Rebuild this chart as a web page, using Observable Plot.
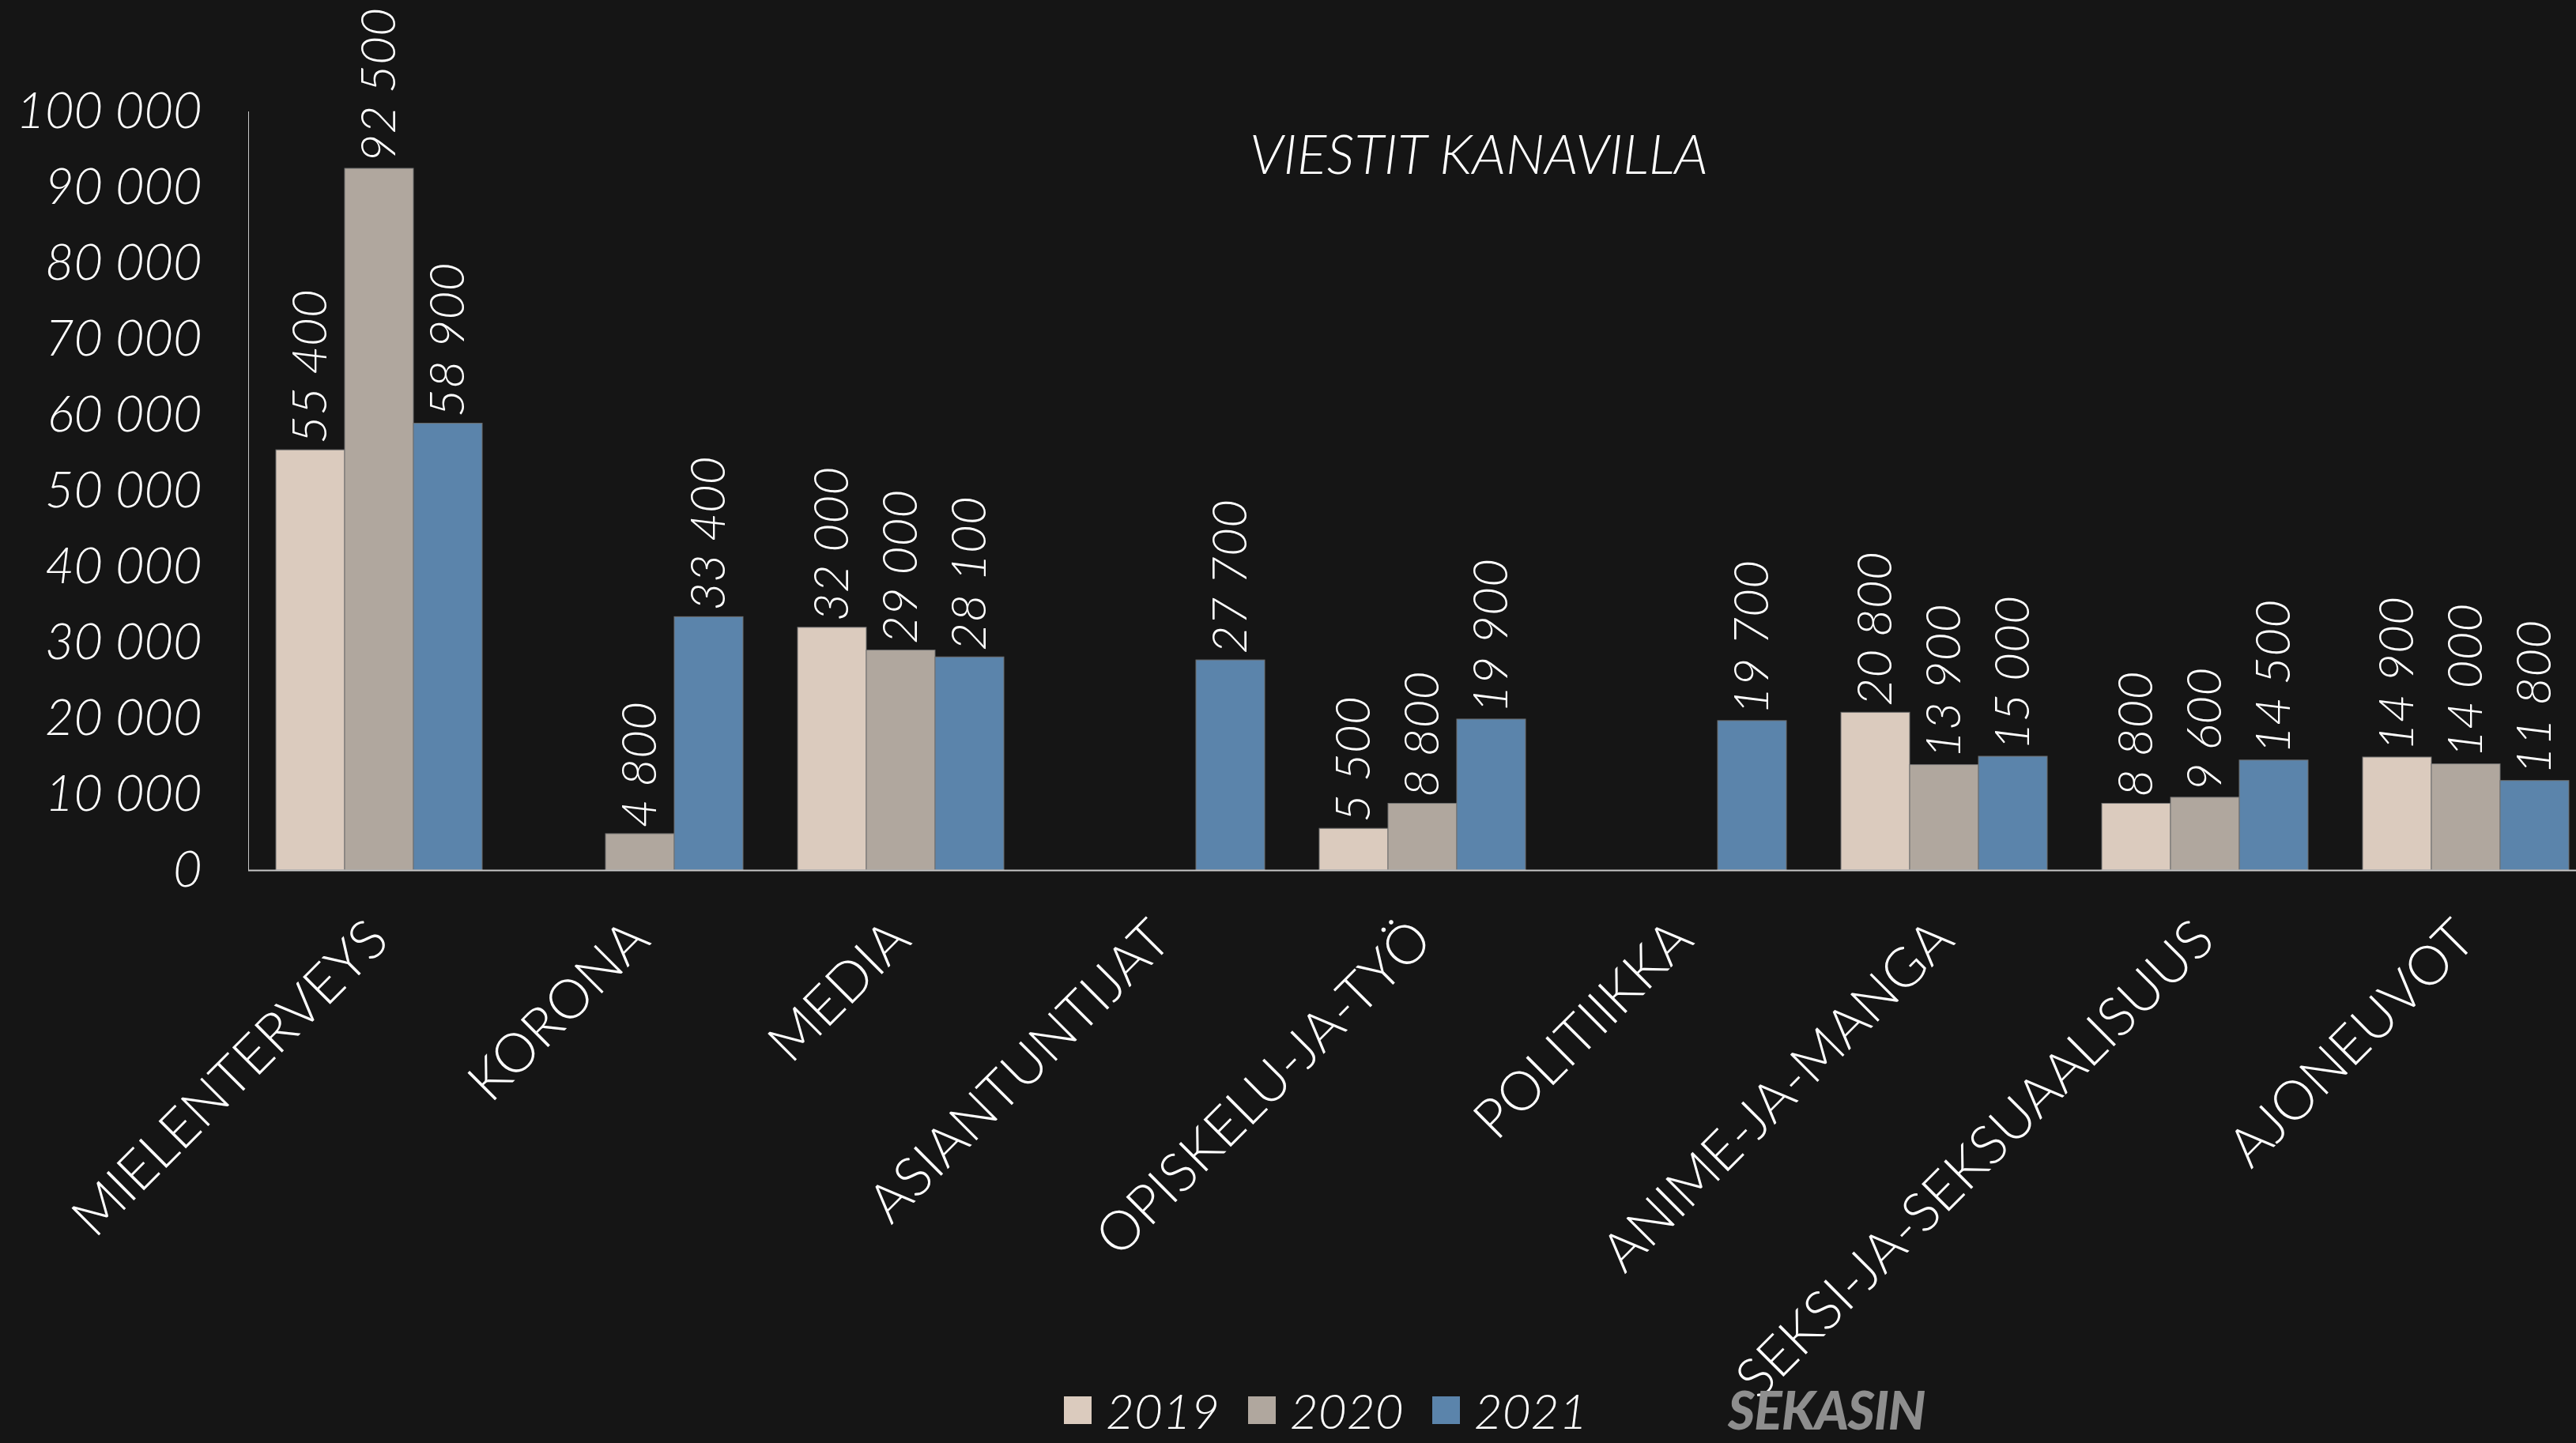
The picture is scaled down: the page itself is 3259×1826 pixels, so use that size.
<!DOCTYPE html>
<html>
<head>
<meta charset="utf-8">
<script src="https://cdn.jsdelivr.net/npm/d3@7"></script>
<script src="https://cdn.jsdelivr.net/npm/@observablehq/plot@0.6"></script>
<style>
  html, body { margin: 0; padding: 0; background: #151515; overflow: hidden; }
  #wrap { position: relative; width: 3259px; height: 1826px; overflow: hidden; background: #151515; font-family: Lato, "Open Sans", sans-serif; }
  #chart svg text { fill: #ffffff; }
  #chart g[aria-label="fx-axis tick label"] { font-style: normal; font-size: 69px; }
  .title { position: absolute; left: 1871px; top: 158px; transform: translateX(-50%); color: #fff; font-size: 70px; line-height: 1; font-style: italic; font-weight: 300; white-space: nowrap; }
  .legend { position: absolute; left: 1346px; top: 1753px; height: 62px; display: flex; align-items: center; gap: 36px; color: #fff; font-size: 62px; font-style: italic; font-weight: 300; line-height: 1; }
  .legend .item { display: flex; align-items: center; gap: 18px; }
  .legend .sw { width: 35px; height: 35px; display: inline-block; }
  .logo { position: absolute; left: 2186px; top: 1751px; font-size: 66px; line-height: 1; font-weight: 900; font-style: italic; color: #8e8e8e; letter-spacing: -1px; }
</style>
</head>
<body>
<div id="wrap">
  <div id="chart"></div>
  <div class="title" id="title"></div>
  <div class="legend" id="legend"></div>
  <div class="logo" id="logo"></div>
</div>
<script>
const categories = ["MIELENTERVEYS", "KORONA", "MEDIA", "ASIANTUNTIJAT", "OPISKELU-JA-TYÖ", "POLITIIKKA", "ANIME-JA-MANGA", "SEKSI-JA-SEKSUAALISUUS", "AJONEUVOT"];
const years = ["2019", "2020", "2021"];
const values2019 = [55400, null, 32000, null, 5500, null, 20800, 8800, 14900];
const values2020 = [92500, 4800, 29000, null, 8800, null, 13900, 9600, 14000];
const values2021 = [58900, 33400, 28100, 27700, 19900, 19700, 15000, 14500, 11800];
const yearColors = ["#dbcbbe", "#b0a79e", "#5b84ab"];
const yTicks = [0, 10000, 20000, 30000, 40000, 50000, 60000, 70000, 80000, 90000, 100000];
const titleText = "VIESTIT KANAVILLA";
const logoText = "SEKASIN";

const series = [values2019, values2020, values2021];
const data = [];
categories.forEach((c, i) => {
  years.forEach((y, j) => {
    const v = series[j][i];
    if (v != null) data.push({category: c, year: y, value: v});
  });
});

const fmt = v => d3.format(",")(v).replace(/,/g, " ");

const chart = Plot.plot({
  width: 3259,
  height: 1826,
  marginLeft: 314,
  marginRight: -25,
  marginTop: 141,
  marginBottom: 725,
  style: {
    background: "#151515",
    color: "#c8c8c8",
    fontFamily: "Lato, 'Open Sans', sans-serif",
    fontStyle: "italic",
    fontWeight: 300,
    fontSize: "63px",
    overflow: "hidden"
  },
  fx: {
    domain: categories,
    padding: 0,
    label: null,
    tickSize: 0,
    tickPadding: 76,
    tickRotate: -45
  },
  x: {
    domain: years,
    paddingInner: 0,
    paddingOuter: 0.389,
    axis: null
  },
  y: {
    domain: [0, 100000],
    ticks: yTicks,
    tickFormat: fmt,
    tickSize: 0,
    tickPadding: 59,
    line: true,
    label: null,
    grid: false
  },
  color: {domain: years, range: yearColors},
  marks: [
    Plot.barY(data, {fx: "category", x: "year", y: "value", fill: "year", stroke: "#6e6e6e", strokeWidth: 1}),
    Plot.ruleY([0], {stroke: "#c8c8c8", strokeWidth: 2}),
    Plot.text(data, {fx: "category", x: "year", y: "value", text: d => fmt(d.value), rotate: -90, textAnchor: "start", dy: -8, fill: "#ffffff", fontSize: 62})
  ]
});
document.getElementById("chart").appendChild(chart);

document.getElementById("title").textContent = titleText;
document.getElementById("logo").textContent = logoText;
const legend = document.getElementById("legend");
years.forEach((y, i) => {
  const item = document.createElement("div");
  item.className = "item";
  const sw = document.createElement("span");
  sw.className = "sw";
  sw.style.background = yearColors[i];
  const t = document.createElement("span");
  t.textContent = y;
  item.appendChild(sw);
  item.appendChild(t);
  legend.appendChild(item);
});
</script>
</body>
</html>
